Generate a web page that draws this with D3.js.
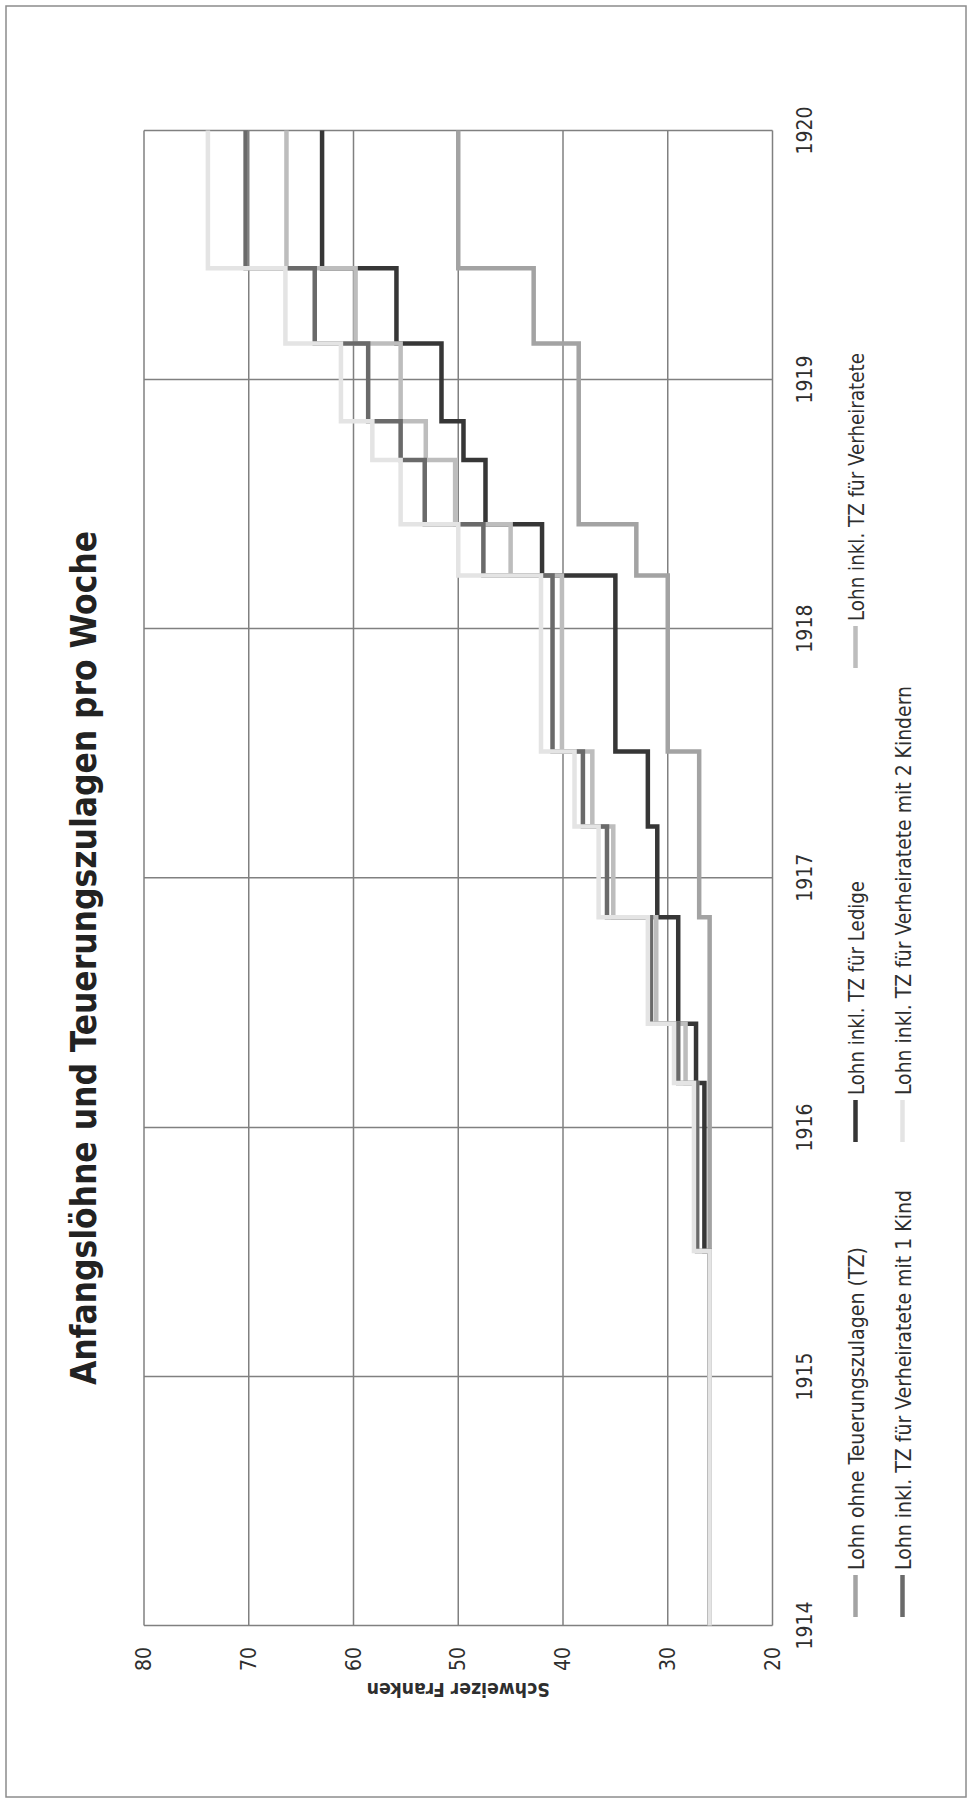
<!DOCTYPE html>
<html>
<head>
<meta charset="utf-8">
<script src="https://cdn.jsdelivr.net/npm/d3@7"></script>
<style>
  html, body { margin: 0; padding: 0; background: #ffffff; }
  svg { display: block; }
</style>
</head>
<body>
<svg id="chart" width="970" height="1802"></svg>
<script>
// ---- data -------------------------------------------------------------
const seriesNames = [
  "Lohn ohne Teuerungszulagen (TZ)",
  "Lohn inkl. TZ für Ledige",
  "Lohn inkl. TZ für Verheiratete",
  "Lohn inkl. TZ für Verheiratete mit 1 Kind",
  "Lohn inkl. TZ für Verheiratete mit 2 Kindern"
];
const seriesColors = ["#a3a3a3", "#363636", "#bdbdbd", "#6a6a6a", "#e4e4e4"];

// first day of each wage period (the series hold the weekly wage valid from that day)
const periodStarts = [
  "1914-01-01", "1915-07-04", "1916-03-06", "1916-06-01", "1916-11-04",
  "1917-03-17", "1917-07-05", "1918-03-20", "1918-06-03", "1918-09-05",
  "1918-11-01", "1919-02-23", "1919-06-13"
];
const periodEnd = "1920-01-01";

const lohnOhneTZ      = [26, 26,   26,   26,   27,   27,   30,   33,   38.5, 38.5, 38.5, 42.8, 50];
const lohnLedige      = [26, 26.5, 27.3, 29.0, 31.0, 31.9, 35.0, 42.0, 47.4, 49.5, 51.6, 55.9, 63.0];
const lohnVerheiratet = [26, 27.2, 28.3, 31.1, 35.2, 37.2, 40.1, 45.0, 50.3, 53.1, 55.5, 59.8, 66.4];
const lohnEinKind     = [26, 27.2, 29.0, 31.6, 35.8, 38.1, 41.0, 47.6, 53.2, 55.5, 58.6, 63.7, 70.3];
const lohnZweiKinder  = [26, 27.5, 29.4, 31.9, 36.6, 38.9, 42.1, 50.0, 55.5, 58.2, 61.2, 66.5, 73.9];
const seriesValues = [lohnOhneTZ, lohnLedige, lohnVerheiratet, lohnEinKind, lohnZweiKinder];

const yearTicks = [1914, 1915, 1916, 1917, 1918, 1919, 1920];
const valueTicks = [20, 30, 40, 50, 60, 70, 80];

const titleText = "Anfangslöhne und Teuerungszulagen pro Woche";
const valueAxisTitle = "Schweizer Franken";

// ---- layout (chart is laid out landscape, then turned a quarter turn) --
const W = 1802, H = 970;
const plot = { left: 176.5, right: 1671.5, top: 144, bottom: 772.5 };
const fontFamily = "'Liberation Sans Narrow', 'DejaVu Sans Condensed', 'Open Sans', sans-serif";
const textColor = "#2e2e2e";

const svg = d3.select("#chart");

// outer frame
svg.append("rect")
  .attr("x", 6).attr("y", 6).attr("width", 960).attr("height", 1791)
  .attr("fill", "none").attr("stroke", "#8c8c8c").attr("stroke-width", 1.5);

const g = svg.append("g").attr("transform", `translate(0,${W}) rotate(-90)`);

const parse = d3.utcParse("%Y-%m-%d");
const x = d3.scaleUtc()
  .domain([Date.UTC(yearTicks[0], 0, 1), Date.UTC(yearTicks[yearTicks.length - 1], 0, 1)])
  .range([plot.left, plot.right]);
const y = d3.scaleLinear()
  .domain([valueTicks[0], valueTicks[valueTicks.length - 1]])
  .range([plot.bottom, plot.top]);

// grid
const gridColor = "#808080";
g.append("g").selectAll("line").data(valueTicks).join("line")
  .attr("x1", plot.left).attr("x2", plot.right)
  .attr("y1", d => y(d)).attr("y2", d => y(d))
  .attr("stroke", gridColor).attr("stroke-width", 1.5);
g.append("g").selectAll("line").data(yearTicks).join("line")
  .attr("x1", d => x(Date.UTC(d, 0, 1))).attr("x2", d => x(Date.UTC(d, 0, 1)))
  .attr("y1", plot.top).attr("y2", plot.bottom)
  .attr("stroke", gridColor).attr("stroke-width", 1.5);

// tick labels
g.append("g").selectAll("text").data(yearTicks).join("text")
  .attr("x", d => x(Date.UTC(d, 0, 1))).attr("y", 811.5)
  .attr("text-anchor", "middle")
  .attr("font-family", fontFamily).attr("font-size", 21).attr("fill", textColor)
  .text(d => d);
g.append("g").selectAll("text").data(valueTicks).join("text")
  .attr("x", 155).attr("y", d => y(d))
  .attr("text-anchor", "end").attr("dominant-baseline", "central")
  .attr("font-family", fontFamily).attr("font-size", 21).attr("fill", textColor)
  .text(d => d);

// value axis title
g.append("text")
  .attr("transform", `translate(119,${(plot.top + plot.bottom) / 2}) rotate(-90)`)
  .attr("text-anchor", "middle")
  .attr("font-family", fontFamily).attr("font-size", 20).attr("font-weight", "bold")
  .attr("fill", textColor)
  .attr("textLength", 183).attr("lengthAdjust", "spacingAndGlyphs")
  .text(valueAxisTitle);

// chart title
g.append("text")
  .attr("x", 844).attr("y", 96)
  .attr("text-anchor", "middle")
  .attr("font-family", fontFamily).attr("font-size", 36).attr("font-weight", "bold")
  .attr("fill", "#222222")
  .attr("textLength", 854).attr("lengthAdjust", "spacingAndGlyphs")
  .text(titleText);

// step lines
const line = d3.line()
  .x(d => x(d.date))
  .y(d => y(d.value))
  .curve(d3.curveStepAfter);

const seriesData = seriesValues.map(vals => {
  const pts = vals.map((v, i) => ({ date: parse(periodStarts[i]), value: v }));
  pts.push({ date: parse(periodEnd), value: vals[vals.length - 1] });
  return pts;
});

g.append("g").selectAll("path").data(seriesData).join("path")
  .attr("d", line)
  .attr("fill", "none")
  .attr("stroke", (d, i) => seriesColors[i])
  .attr("stroke-width", 4.5)
  .attr("stroke-linejoin", "miter")
  .attr("stroke-linecap", "butt");

// legend: three columns, two rows
const legendCols = [185, 660, 1134];
const legendRows = [864, 911];
const legendTextLengths = [323, 214, 268, 380, 409];
const legend = g.append("g").selectAll("g").data(seriesNames).join("g")
  .attr("transform", (d, i) => `translate(${legendCols[i % 3]},${legendRows[Math.floor(i / 3)]})`);
legend.append("line")
  .attr("x1", 0).attr("x2", 42).attr("y1", -8.5).attr("y2", -8.5)
  .attr("stroke", (d, i) => seriesColors[i]).attr("stroke-width", 4.5);
legend.append("text")
  .attr("x", 47).attr("y", 0)
  .attr("font-family", fontFamily).attr("font-size", 21).attr("fill", textColor)
  .attr("textLength", (d, i) => legendTextLengths[i]).attr("lengthAdjust", "spacingAndGlyphs")
  .text(d => d);
</script>
</body>
</html>
